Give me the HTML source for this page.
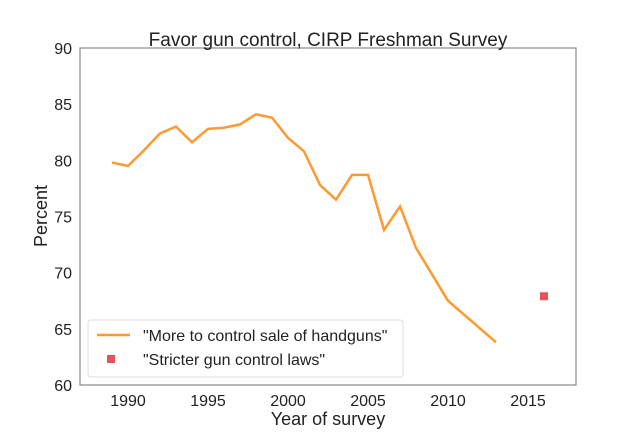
<!DOCTYPE html>
<html><head><meta charset="utf-8"><style>
body{margin:0;background:#fff;font-family:"Liberation Sans",sans-serif}
svg text{font-family:"Liberation Sans",sans-serif;fill:#222}
</style></head><body>
<svg id="c" width="640" height="440"></svg>
<script>
const years=[1989,1990,1991,1992,1993,1994,1995,1996,1997,1998,1999,2000,2001,2002,2003,2004,2005,2006,2007,2008,2010,2013];
const handguns=[79.8,79.5,80.9,82.4,83.0,81.6,82.8,82.9,83.2,84.1,83.8,82.0,80.8,77.8,76.5,78.7,78.7,73.8,75.9,72.2,67.5,63.8];
const stricterYears=[2016];
const stricter=[67.9];
const xTicks=[1990,1995,2000,2005,2010,2015];
const yTicks=[60,65,70,75,80,85,90];
const L=80,R=576,T=48,B=385,x0=1987,x1=2018,y0=60,y1=90;
const sx=v=>L+(v-x0)/(x1-x0)*(R-L), sy=v=>B-(v-y0)/(y1-y0)*(B-T);
const s=document.getElementById('c'),NS='http://www.w3.org/2000/svg';
function mk(t,a,p){const e=document.createElementNS(NS,t);for(const k in a)e.setAttribute(k,a[k]);(p||s).appendChild(e);return e;}
let f=mk('rect',{x:L,y:T,width:R-L,height:B-T,fill:'none',stroke:'#888','stroke-width':1.2});


xTicks.forEach(v=>{const t=mk('text',{x:sx(v),y:B+21,'text-anchor':'middle','font-size':16});t.textContent=v;

});
yTicks.forEach(v=>{const t=mk('text',{x:L-8,y:sy(v)+6,'text-anchor':'end','font-size':16});t.textContent=v;

});
const pl=mk('polyline',{points:years.map((y,i)=>sx(y)+','+sy(handguns[i])).join(' '),fill:'none',stroke:'#ff9a30','stroke-width':2.5,'stroke-linejoin':'miter'});


stricterYears.forEach((y,i)=>{const m=mk('rect',{x:sx(y)-4,y:sy(stricter[i])-4,width:8,height:8,fill:'#e8525a'});

});
</script>
<svg width="640" height="440" style="position:absolute;left:0;top:0">
<text x="328" y="46" text-anchor="middle" font-size="19">Favor gun control, CIRP Freshman Survey</text>
<text x="328" y="425" text-anchor="middle" font-size="18">Year of survey</text>
<text x="47" y="216" text-anchor="middle" font-size="18" transform="rotate(-90 47 216)">Percent</text>
<g>
<rect x="88" y="320" width="315" height="57" rx="3" fill="#fff" stroke="#ddd"/>
<line x1="97" y1="335" x2="130" y2="335" stroke="#ff9a30" stroke-width="2.5"/>
<text x="143" y="341" font-size="16">"More to control sale of handguns"</text>
<rect x="107" y="355" width="8" height="8" fill="#e8525a"/>
<text x="143" y="365" font-size="16">"Stricter gun control laws"</text>
</g>
</svg>
</body></html>
